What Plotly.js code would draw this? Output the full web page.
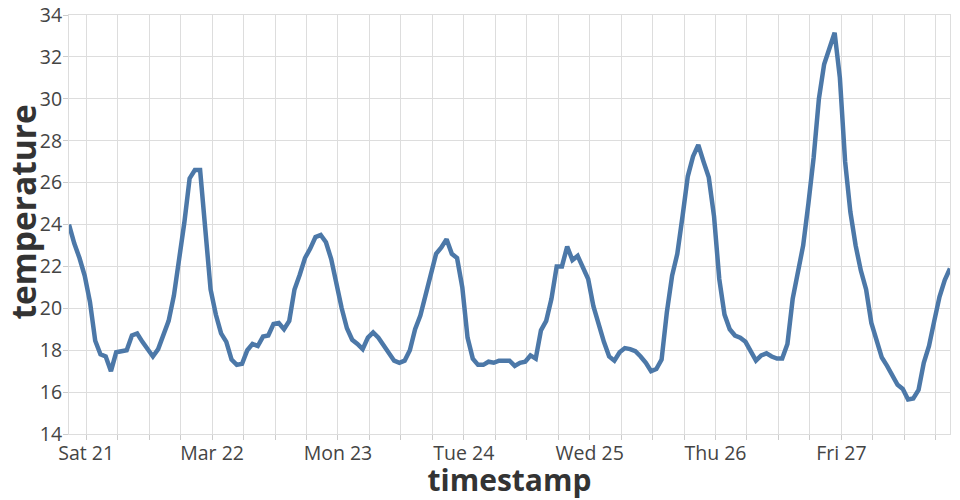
<!DOCTYPE html>
<html>
<head>
<meta charset="utf-8">
<script src="https://cdn.plot.ly/plotly-3.0.1.min.js"></script>
<style>html,body{margin:0;padding:0;background:#fff;}#chart{width:960px;height:500px;}</style>
</head>
<body>
<div id="chart"></div>
<script>
// hourly readings, first reading at 2020-03-20 20:43
var startTime = "2020-03-20T20:43:00Z";
var stepHours = 1;
var temperature = [
  24.0, 23.1, 22.4, 21.55, 20.3, 18.45, 17.8, 17.7, 17.0, 17.9,
  17.95, 18.0, 18.7, 18.8, 18.4, 18.0, 17.7, 18.05, 18.7, 19.4,
  20.6, 22.2, 24.1, 26.2, 26.6, 26.6, 24.0, 20.9, 19.7, 18.8,
  18.4, 17.55, 17.3, 17.35, 18.0, 18.3, 18.2, 18.65, 18.7, 19.25,
  19.3, 19.0, 19.4, 20.9, 21.6, 22.4, 22.85, 23.4, 23.5, 23.15,
  22.35, 21.15, 20.0, 19.05, 18.5, 18.3, 18.05, 18.6, 18.85, 18.6,
  18.2, 17.8, 17.5, 17.4, 17.5, 18.0, 19.0, 19.65, 20.7, 21.7,
  22.6, 22.9, 23.3, 22.6, 22.4, 21.0, 18.6, 17.6, 17.3, 17.3,
  17.45, 17.4, 17.5, 17.5, 17.5, 17.25, 17.4, 17.45, 17.75, 17.6,
  18.95, 19.4, 20.45, 22.0, 22.0, 22.95, 22.3, 22.5, 22.0, 21.4,
  20.1, 19.2, 18.4, 17.7, 17.5, 17.9, 18.1, 18.05, 17.95, 17.7,
  17.4, 17.0, 17.1, 17.55, 19.8, 21.55, 22.6, 24.4, 26.3, 27.25,
  27.8, 27.0, 26.25, 24.4, 21.4, 19.7, 19.0, 18.7, 18.6, 18.4,
  17.9, 17.5, 17.75, 17.85, 17.7, 17.6, 17.6, 18.3, 20.45, 21.8,
  23.0, 25.0, 27.2, 30.0, 31.65, 32.4, 33.15, 31.0, 27.0, 24.6,
  23.0, 21.8, 20.9, 19.3, 18.4, 17.65, 17.25, 16.8, 16.35, 16.15,
  15.65, 15.7, 16.1, 17.4, 18.2, 19.4, 20.55, 21.35, 21.9
];
var dayStarts = ["2020-03-21", "2020-03-22", "2020-03-23", "2020-03-24", "2020-03-25", "2020-03-26", "2020-03-27"];
var dayLabels = ["Sat 21", "Mar 22", "Mon 23", "Tue 24", "Wed 25", "Thu 26", "Fri 27"];
var yTicks = [14, 16, 18, 20, 22, 24, 26, 28, 30, 32, 34];
var xTitle = "timestamp";
var yTitle = "temperature";

function fmt(ms) {
  return new Date(ms).toISOString().slice(0, 19).replace('T', ' ');
}
var t0 = Date.parse(startTime);
var timestamp = temperature.map(function (v, i) { return fmt(t0 + i * stepHours * 3600000); });

// ticks every 6 hours, labelled at each day start
var tickVals = [], tickText = [];
dayStarts.forEach(function (d, k) {
  var base = Date.parse(d + "T00:00:00Z");
  for (var h = 0; h < 24; h += 6) {
    tickVals.push(fmt(base + h * 3600000));
    tickText.push(h === 0 ? dayLabels[k] : "");
  }
});

var trace = {
  x: timestamp,
  y: temperature,
  type: 'scatter',
  mode: 'lines',
  line: {color: '#4c78a8', width: 4.5, shape: 'linear'},
  hoverinfo: 'x+y'
};

var layout = {
  width: 960,
  height: 500,
  margin: {l: 69, r: 10, t: 15, b: 66},
  paper_bgcolor: '#fff',
  plot_bgcolor: '#fff',
  showlegend: false,
  font: {family: '"Open Sans", sans-serif', color: '#444'},
  xaxis: {
    type: 'date',
    range: [timestamp[0], timestamp[timestamp.length - 1]],
    tickmode: 'array',
    tickvals: tickVals,
    ticktext: tickText,
    showgrid: true,
    gridcolor: '#ddd',
    gridwidth: 1,
    ticks: 'outside',
    ticklen: 5,
    tickcolor: '#ccc',
    showline: true,
    linecolor: '#ddd',
    mirror: true,
    zeroline: false,
    ticklabelstandoff: -3,
    tickfont: {size: 19.5, color: '#444'},
    title: {text: xTitle, font: {size: 30, color: '#333', weight: 'bold'}, standoff: 1}
  },
  yaxis: {
    range: [14, 34],
    tickmode: 'array',
    tickvals: yTicks,
    ticktext: yTicks.map(String),
    showgrid: true,
    gridcolor: '#ddd',
    gridwidth: 1,
    ticks: 'outside',
    ticklen: 5,
    tickcolor: '#ccc',
    showline: true,
    linecolor: '#ddd',
    mirror: true,
    zeroline: false,
    ticklabelstandoff: -3,
    tickfont: {size: 19.5, color: '#444'},
    title: {text: ''}
  },
  annotations: [{
    text: '<b>' + yTitle + '</b>',
    textangle: -90,
    xref: 'paper', yref: 'paper',
    x: (23 - 69) / 881, y: (434 - 212.5) / 419,
    xanchor: 'center', yanchor: 'middle',
    showarrow: false,
    font: {family: '"Open Sans", sans-serif', size: 33.5, color: '#333'}
  }]
};

Plotly.newPlot('chart', [trace], layout, {displayModeBar: false, staticPlot: true});
</script>
</body>
</html>
